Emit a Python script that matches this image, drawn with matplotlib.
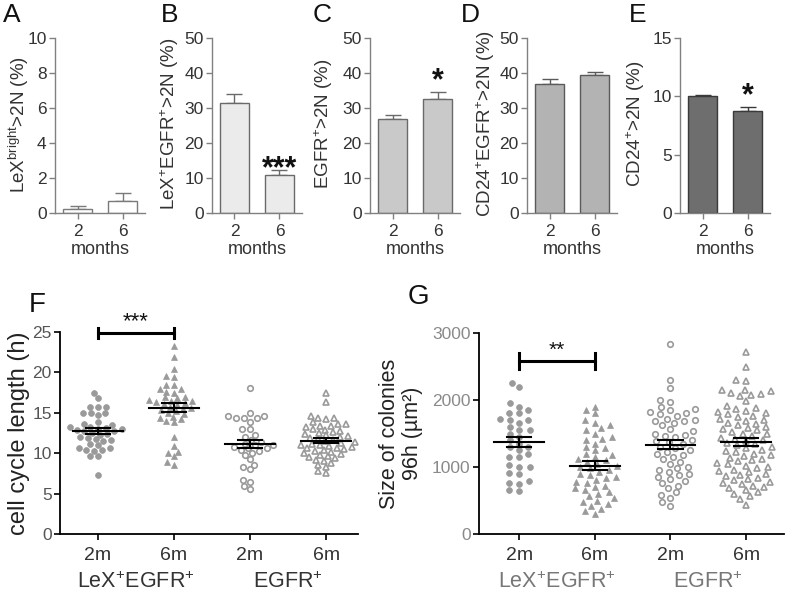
import numpy as np
import matplotlib
matplotlib.use("Agg")
import matplotlib.pyplot as plt

plt.rcParams['font.family'] = ['Liberation Sans', 'DejaVu Sans']
plt.rcParams['mathtext.fontset'] = 'custom'
plt.rcParams['mathtext.rm'] = 'Liberation Sans'
plt.rcParams['mathtext.it'] = 'Liberation Sans:italic'
plt.rcParams['mathtext.bf'] = 'Liberation Sans:bold'

# ---------------- data ----------------
months = ["2", "6"]

a_vals = [0.23, 0.66]
a_err = [0.17, 0.48]
b_vals = [31.3, 10.9]
b_err = [2.8, 1.3]
c_vals = [26.8, 32.5]
c_err = [1.1, 2.1]
d_vals = [36.9, 39.4]
d_err = [1.5, 0.9]
e_vals = [10.0, 8.75]
e_err = [0.13, 0.30]

f_groups = ["2m", "6m", "2m", "6m"]
f_lex_2m = [17.4, 16.8, 15.7, 15.7, 15.7, 15.0, 15.0, 15.0, 14.7, 13.2, 13.0, 13.9,
            13.6, 13.5, 13.3, 13.1, 13.0, 12.9, 12.8, 12.7, 12.5, 12.4, 12.3, 12.0,
            11.9, 11.7, 11.6, 11.5, 11.2, 11.0, 10.7, 10.6, 10.4, 10.4, 10.3, 9.7,
            9.7, 7.3]
f_lex_6m = [23.3, 21.9, 20.4, 19.5, 19.4, 18.5, 18.4, 18.0, 17.9, 17.6, 17.5, 17.0,
            16.9, 16.8, 16.6, 16.5, 16.4, 16.3, 16.2, 16.1, 16.0, 15.7, 15.6, 15.5,
            15.3, 15.2, 15.0, 14.8, 14.5, 14.4, 14.2, 14.0, 13.8, 12.0, 10.9, 10.2,
            10.0, 9.6, 8.9, 8.6]
f_egfr_2m = [18.1, 15.0, 14.6, 14.6, 14.3, 14.3, 14.3, 13.9, 13.0, 13.0, 12.2, 12.0,
             11.6, 11.4, 11.2, 11.0, 11.0, 10.8, 10.6, 10.6, 10.4, 10.3, 10.0, 9.8,
             9.3, 8.6, 8.3, 8.0, 6.7, 6.4, 6.0, 5.6]
f_egfr_6m = [17.5, 16.3, 14.6, 14.4, 14.4, 14.2, 13.8, 13.6, 13.6, 13.4, 13.4, 13.2,
             13.0, 12.9, 12.8, 12.6, 12.5, 12.4, 12.2, 12.1, 12.0, 11.9, 11.8, 11.6,
             11.5, 11.4, 11.3, 11.2, 11.0, 11.0, 10.9, 10.8, 10.7, 10.6, 10.5, 10.4,
             10.3, 10.2, 10.0, 9.9, 9.8, 9.6, 9.5, 9.4, 9.2, 9.0, 8.8, 8.5, 8.3, 7.8,
             7.6]

g_lex_2m = [2260, 2190, 1950, 1900, 1850, 1810, 1800, 1720, 1700, 1700, 1650, 1600,
            1550, 1550, 1500, 1450, 1400, 1350, 1300, 1300, 1250, 1200, 1150, 1150,
            1030, 1000, 1000, 910, 900, 790, 760, 750, 650, 640]
g_lex_6m = [1900, 1850, 1800, 1700, 1660, 1620, 1580, 1550, 1500, 1450, 1420, 1400,
            1350, 1300, 1280, 1250, 1200, 1180, 1150, 1120, 1100, 1080, 1050, 1020,
            1000, 980, 950, 930, 900, 880, 850, 830, 800, 780, 760, 720, 700, 680,
            650, 620, 600, 560, 530, 500, 480, 450, 420, 380, 340, 300]
g_egfr_2m = [2840, 2300, 2180, 2000, 1975, 1900, 1860, 1850, 1820, 1800, 1790, 1760,
             1720, 1700, 1690, 1680, 1650, 1620, 1560, 1540, 1500, 1480, 1470, 1450,
             1400, 1390, 1370, 1350, 1300, 1290, 1250, 1230, 1200, 1180, 1150, 1120,
             1080, 1050, 1000, 980, 950, 920, 900, 880, 850, 820, 790, 760, 720, 680,
             620, 580, 540, 480, 420]
g_egfr_6m = [2720, 2500, 2300, 2280, 2150, 2150, 2130, 2110, 2090, 2070, 2060, 1980,
             1910, 1880, 1870, 1840, 1815, 1800, 1790, 1765, 1750, 1720, 1705, 1690,
             1660, 1645, 1620, 1600, 1585, 1560, 1545, 1520, 1500, 1490, 1460, 1440,
             1425, 1400, 1385, 1360, 1340, 1330, 1300, 1285, 1260, 1245, 1220, 1200,
             1180, 1165, 1140, 1120, 1100, 1085, 1060, 1040, 1020, 1000, 985, 960,
             940, 925, 900, 880, 865, 840, 820, 800, 780, 765, 740, 720, 700, 685,
             650, 620, 600, 560, 520, 440]

W, H = 787, 596
fig = plt.figure(figsize=(W / 100, H / 100), dpi=100)


def px_axes(left, top, right, bottom):
    return fig.add_axes([left / W, 1 - bottom / H, (right - left) / W, (bottom - top) / H])


SP = '#808080'
TXT = '#333333'


def star_text(ax, x, yc, s, fs, weight='normal'):
    # place asterisks so that their visual centre sits at data y = yc
    ax.annotate(s, xy=(x, yc), xytext=(0, -0.30 * fs), textcoords='offset points',
                ha='center', va='baseline', fontsize=fs, color='#111111',
                fontweight=weight, annotation_clip=False)


# ---------------- bar panels ----------------
bar_specs = [
    ("A", 55, a_vals, a_err, 10, [0, 2, 4, 6, 8, 10], 'white', '#7a7a7a',
     r"LeX$^{\mathrm{bright}}$>2N (%)", 19, 12, None, None),
    ("B", 212, b_vals, b_err, 50, [0, 10, 20, 30, 40, 50], '#ebebeb', '#6a6a6a',
     r"LeX$^{+}$EGFR$^{+}$>2N (%)", 170, 170, "***", 12.9),
    ("C", 370, c_vals, c_err, 50, [0, 10, 20, 30, 40, 50], '#c9c9c9', '#6a6a6a',
     r"EGFR$^{+}$>2N (%)", 324, 322, "*", 38.0),
    ("D", 527, d_vals, d_err, 50, [0, 10, 20, 30, 40, 50], '#b3b3b3', '#5a5a5a',
     r"CD24$^{+}$EGFR$^{+}$>2N (%)", 486, 470, None, None),
    ("E", 680, e_vals, e_err, 15, [0, 5, 10, 15], '#6e6e6e', '#3a3a3a',
     r"CD24$^{+}$>2N (%)", 636, 638, "*", 10.1),
]

for letter, left, vals, errs, ymax, yt, fc, ec, ylab, ylx, letx, star, star_y in bar_specs:
    ax = px_axes(left, 38, left + 90, 213)
    x = np.arange(len(months))
    ax.bar(x, vals, width=0.66, color=fc, edgecolor=ec, linewidth=1.0, zorder=2)
    ax.errorbar(x, vals, yerr=[np.zeros(len(vals)), errs], fmt='none', ecolor=ec,
                elinewidth=1.0, capsize=5.5, capthick=1.0, zorder=1)
    ax.set_xlim(-0.5, 1.5)
    ax.set_ylim(0, ymax)
    ax.set_yticks(yt)
    ax.set_xticks(x)
    ax.set_xticklabels(months)
    ax.tick_params(labelsize=12.5, colors=TXT, length=4, width=1.0, pad=2)
    ax.tick_params(axis='x', pad=4)
    ax.tick_params(axis='both', color=SP)
    for s in ['top', 'right']:
        ax.spines[s].set_visible(False)
    for s in ['left', 'bottom']:
        ax.spines[s].set_color(SP)
        ax.spines[s].set_linewidth(1.0)
    ax.set_xlabel("months", fontsize=13, color=TXT, labelpad=1)
    fig.text(ylx / W, 1 - 124 / H, ylab, rotation=90, ha='center', va='center',
             fontsize=13.5, color=TXT)
    fig.text(letx / W, 1 - 15 / H, letter, ha='center', va='center', fontsize=19,
             color='#111111')
    if star is not None:
        star_text(ax, 1, star_y, star, 22, 'bold')

# ---------------- scatter panels ----------------
MK = '#9a9a9a'


def swarm(yvals_px, d):
    order = np.argsort(yvals_px)
    xs = np.zeros(len(yvals_px))
    placed = []
    for i in order:
        y = yvals_px[i]
        cands = [0.0]
        for (px, py) in placed:
            dy = y - py
            if abs(dy) < d:
                dx = np.sqrt(d * d - dy * dy)
                cands += [px + dx, px - dx]
        cands = sorted(cands, key=lambda c: (abs(c), c))
        for c in cands:
            ok = True
            for (px, py) in placed:
                if (c - px) ** 2 + (y - py) ** 2 < d * d - 1e-6:
                    ok = False
                    break
            if ok:
                xs[i] = c
                placed.append((c, y))
                break
    return xs


def scatter_panel(left, right, top, bottom, xlim, ymax, yt, groups, styles, dx, dy,
                  ylab_lines, tick_color, sig, sig_y, sig_tick, sig_text_y, sig_fs,
                  group_names, gname_color, letter, letter_xy, ylab_x, ylab_fs):
    ax = px_axes(left, top, right, bottom)
    ax.set_xlim(*xlim)
    ax.set_ylim(0, ymax)
    wpx = right - left
    hpx = bottom - top
    xpp = (xlim[1] - xlim[0]) / wpx
    ypp = ymax / hpx
    for gi, (vals, st) in enumerate(zip(groups, styles)):
        v = np.array(vals, dtype=float)
        offs = swarm(v / ypp * (dx / dy), dx) * xpp
        marker, filled, ms = st
        if filled:
            ax.plot(gi + offs, v, linestyle='none', marker=marker, ms=ms, mfc=MK,
                    mec=MK, mew=0.5, zorder=2, clip_on=False)
        else:
            ax.plot(gi + offs, v, linestyle='none', marker=marker, ms=ms, mfc='none',
                    mec=MK, mew=1.2, zorder=2, clip_on=False)
        m = v.mean()
        se = v.std(ddof=1) / np.sqrt(len(v))
        ax.plot([gi - 0.33, gi + 0.33], [m, m], color='black', lw=1.5, zorder=3)
        ax.plot([gi - 0.16, gi + 0.16], [m + se, m + se], color='black', lw=1.5, zorder=3)
        ax.plot([gi - 0.16, gi + 0.16], [m - se, m - se], color='black', lw=1.5, zorder=3)
        ax.plot([gi, gi], [m - se, m + se], color='black', lw=1.5, zorder=3)
    ax.set_yticks(yt)
    ax.set_xticks(range(len(groups)))
    ax.set_xticklabels(f_groups)
    for s in ['top', 'right']:
        ax.spines[s].set_visible(False)
    for s in ['left', 'bottom']:
        ax.spines[s].set_color('black')
        ax.spines[s].set_linewidth(1.3)
    ax.tick_params(axis='y', labelsize=12.5, colors=tick_color, length=4, width=1.2, pad=2)
    ax.tick_params(axis='y', color='black')
    ax.tick_params(axis='x', labelsize=14, colors=TXT, length=4, width=1.2, pad=5)
    ax.tick_params(axis='x', color='black')
    # significance bar
    ax.plot([0, 1], [sig_y, sig_y], color='black', lw=2.2, clip_on=False)
    for xx in [0, 1]:
        ax.plot([xx, xx], [sig_y - sig_tick, sig_y + sig_tick], color='black', lw=2.2,
                clip_on=False)
    star_text(ax, 0.5, sig_text_y, sig, sig_fs)
    # group labels
    for k, name in enumerate(group_names):
        ax.text(2 * k + 0.5, -0.24, name, transform=ax.get_xaxis_transform(),
                ha='center', va='center', fontsize=15.5, color=gname_color)
    fig.text(ylab_x / W, 1 - (top + bottom) / 2 / H, ylab_lines, rotation=90, ha='center',
             va='center', fontsize=ylab_fs, color='#222222', linespacing=1.1)
    fig.text(letter_xy[0] / W, 1 - letter_xy[1] / H, letter, ha='center', va='center',
             fontsize=20, color='#111111')
    return ax


names = [r"LeX$^{+}$EGFR$^{+}$", r"EGFR$^{+}$"]

scatter_panel(60, 358, 332, 534, (-0.5, 3.42), 25, [0, 5, 10, 15, 20, 25],
              [f_lex_2m, f_lex_6m, f_egfr_2m, f_egfr_6m],
              [('o', True, 4.2), ('^', True, 4.6), ('o', False, 4.0), ('^', False, 4.4)],
              8.0, 5.5, "cell cycle length (h)", '#555555', "***", 24.9, 0.6, 26.4, 16,
              names, TXT, "F", (37, 305), 19, 17)

scatter_panel(479, 784, 333, 534, (-0.53, 3.5), 3000, [0, 1000, 2000, 3000],
              [g_lex_2m, g_lex_6m, g_egfr_2m, g_egfr_6m],
              [('o', True, 4.2), ('^', True, 4.6), ('o', False, 4.0), ('^', False, 4.4)],
              10.5, 6.5, "Size of colonies\n96h (µm²)", '#8a8a8a', "**", 2580, 120, 2750, 15,
              names, '#777777', "G", (418, 297), 401, 15.5)

fig.savefig("out.png", dpi=100)
